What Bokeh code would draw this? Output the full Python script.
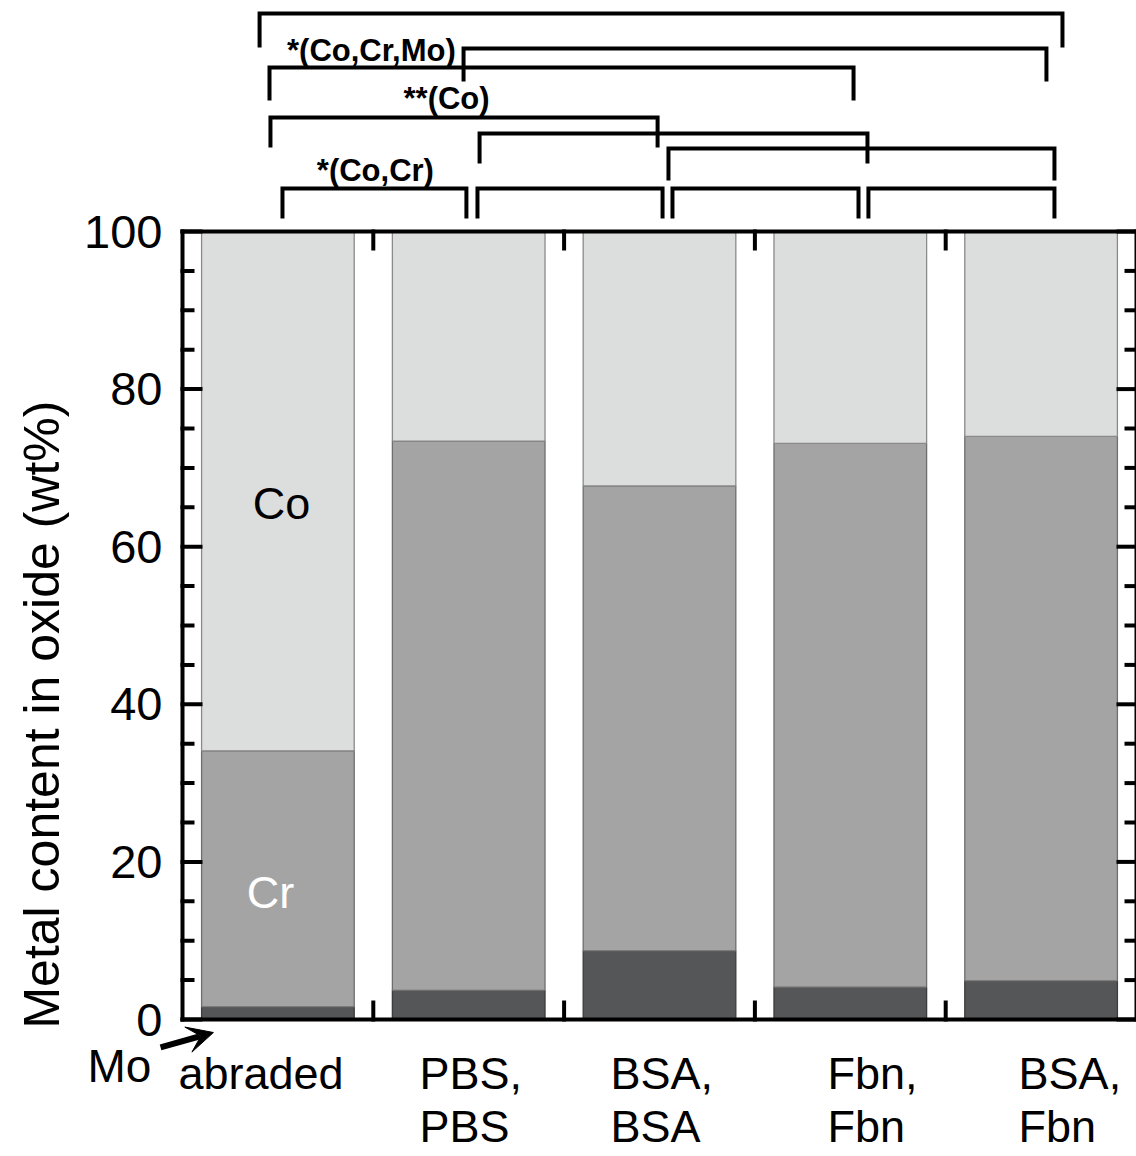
import math

from bokeh.plotting import figure
from bokeh.models import Range1d, Arrow, VeeHead, ColumnDataSource
from bokeh.core.properties import value
from bokeh.embed import file_html
from bokeh.resources import INLINE

# ---- data -------------------------------------------------------------
groups = ["abraded", "PBS,\nPBS", "BSA,\nBSA", "Fbn,\nFbn", "BSA,\nFbn"]
mo = [1.6, 3.7, 8.7, 4.1, 4.9]        # wt% Mo
cr = [32.5, 69.7, 59.0, 69.0, 69.1]   # wt% Cr
co = [65.9, 26.6, 32.3, 26.9, 26.0]   # wt% Co
y_ticks = [0, 20, 40, 60, 80, 100]
y_tick_labels = ["0", "20", "40", "60", "80", "100"]
y_minor = [5, 10, 15, 25, 30, 35, 45, 50, 55, 65, 70, 75, 85, 90, 95]

# pairwise comparisons (group index pairs) and their significance notes
comparisons = [(0, 4), (1, 4), (0, 3), (0, 2), (1, 3), (2, 4),
               (0, 1), (1, 2), (2, 3), (3, 4)]
sig_texts = ["*(Co,Cr,Mo)", "**(Co)", "*(Co,Cr)"]

# ---- layout -----------------------------------------------------------
W, H = 1136, 1156
LEFT = 182                     # screen column of x = 0 (left frame edge)
PX = (W - LEFT) / 5.0          # pixels per x unit
PY = 7.88                      # pixels per y unit
Y0_PX = 1019                   # screen row of y = 0
x_lo = -LEFT / PX
y_top = Y0_PX / PY
y_lo = -(H - Y0_PX) / PY

FONT = "Liberation Sans"
c_co, c_cr, c_mo = "#dcdddd", "#a4a4a4", "#555658"

centers = [i + 0.5 for i in range(len(groups))]

# bracket geometry (heights in data units, end nudges in data units)
br_top = [127.66, 123.22, 120.81, 114.47, 112.44, 110.53,
          105.46, 105.46, 105.46, 105.46]
br_leg_px = [34, 33, 33, 30, 30, 32, 30, 30, 30, 30]
br_dx0 = [-0.096, -0.027, -0.044, -0.039, 0.057, 0.047, 0.024, 0.046, 0.068, 0.095]
br_dx1 = [0.112, 0.028, 0.017, -0.010, 0.090, 0.070, -0.012, 0.016, 0.043, 0.070]
sig_pos = [(0.99, 122.97), (1.384, 116.88), (1.011, 107.74)]

label_x = [-0.021, 1.242, 2.243, 3.380, 4.382]
label_y = -3.6

p = figure(width=W, height=H,
           x_range=Range1d(x_lo, 5), y_range=Range1d(y_lo, y_top),
           x_axis_location=None, y_axis_location=None,
           min_border_left=0, min_border_right=0,
           min_border_top=0, min_border_bottom=0,
           toolbar_location=None, output_backend="svg",
           outline_line_color=None, background_fill_color="white",
           border_fill_color="white")
p.grid.visible = False

# ---- stacked bars -----------------------------------------------------
src = ColumnDataSource(dict(x=centers, Mo=mo, Cr=cr, Co=co))
p.vbar_stack(["Mo", "Cr", "Co"], x="x", width=0.8, source=src,
             fill_color=[c_mo, c_cr, c_co],
             line_color=["#3c3c3c", "#6e6e6e", "#8a8a8a"], line_width=1.3)

# ---- frame box with inward ticks ----------------------------------------
fx0, fy0, fx1, fy1 = [], [], [], []
for (a, b, c, d) in [(0, 100, 5, 100), (5, 0, 5, 100), (0, 0, 5, 0), (0, 0, 0, 100)]:
    fx0.append(a); fy0.append(b); fx1.append(c); fy1.append(d)
for k in range(1, 5):
    fx0 += [k, k]; fy0 += [100, 0]
    fx1 += [k, k]; fy1 += [100 - 17 / PY, 17 / PY]
for t in y_ticks:
    fx0 += [0, 5]; fy0 += [t, t]
    fx1 += [18 / PX, 5 - 18 / PX]; fy1 += [t, t]
for t in y_minor:
    fx0 += [0, 5]; fy0 += [t, t]
    fx1 += [10 / PX, 5 - 10 / PX]; fy1 += [t, t]
p.segment(x0=fx0, y0=fy0, x1=fx1, y1=fy1, line_color="black",
          line_width=4, line_cap="square")

# y tick labels and title
p.text(x=[-20 / PX] * len(y_ticks), y=y_ticks, text=y_tick_labels,
       text_font=value(FONT), text_font_size="47px", text_align="right",
       text_baseline="middle", text_color="black")
p.text(x=[-0.734], y=[38.7], text=["Metal content in oxide (wt%)"],
       angle=math.pi / 2, text_font=value(FONT), text_font_size="50px",
       text_align="center", text_baseline="middle", text_color="black")

# ---- significance brackets ----------------------------------------------
bxs, bys = [], []
for (i, j), top, leg, d0, d1 in zip(comparisons, br_top, br_leg_px, br_dx0, br_dx1):
    xa, xb = centers[i] + d0, centers[j] + d1
    bot = top - leg / PY
    bxs.append([xa, xa, xb, xb])
    bys.append([bot, top, top, bot])
p.multi_line(xs=bxs, ys=bys, line_color="black", line_width=4,
             line_join="miter", line_cap="butt")

p.text(x=[s[0] for s in sig_pos], y=[s[1] for s in sig_pos], text=sig_texts,
       text_font=value(FONT), text_font_style="bold", text_font_size="31px",
       text_align="center", text_baseline="middle", text_color="black")

# ---- in-bar element names -------------------------------------------------
p.text(x=[0.519], y=[65.48], text=["Co"], text_font=value(FONT),
       text_font_size="45px", text_align="center", text_baseline="middle",
       text_color="black")
p.text(x=[0.461], y=[16.12], text=["Cr"], text_font=value(FONT),
       text_font_size="45px", text_align="center", text_baseline="middle",
       text_color="white")

# ---- category labels ------------------------------------------------------
p.text(x=label_x, y=[label_y] * len(groups), text=groups,
       text_font=value(FONT), text_font_size="45px", text_align="left",
       text_baseline="top", text_line_height=1.04, text_color="black")

# Mo pointer
p.text(x=[-0.498], y=[-5.95], text=["Mo"], text_font=value(FONT),
       text_font_size="46px", text_align="left", text_baseline="alphabetic",
       text_color="black")
p.add_layout(Arrow(x_start=-0.115, y_start=-3.55, x_end=0.162, y_end=-1.65,
                   line_width=6, line_color="black",
                   end=VeeHead(size=26, fill_color="black", line_color="black",
                               line_width=1)))

open("out.html", "w").write(file_html(p, INLINE))
